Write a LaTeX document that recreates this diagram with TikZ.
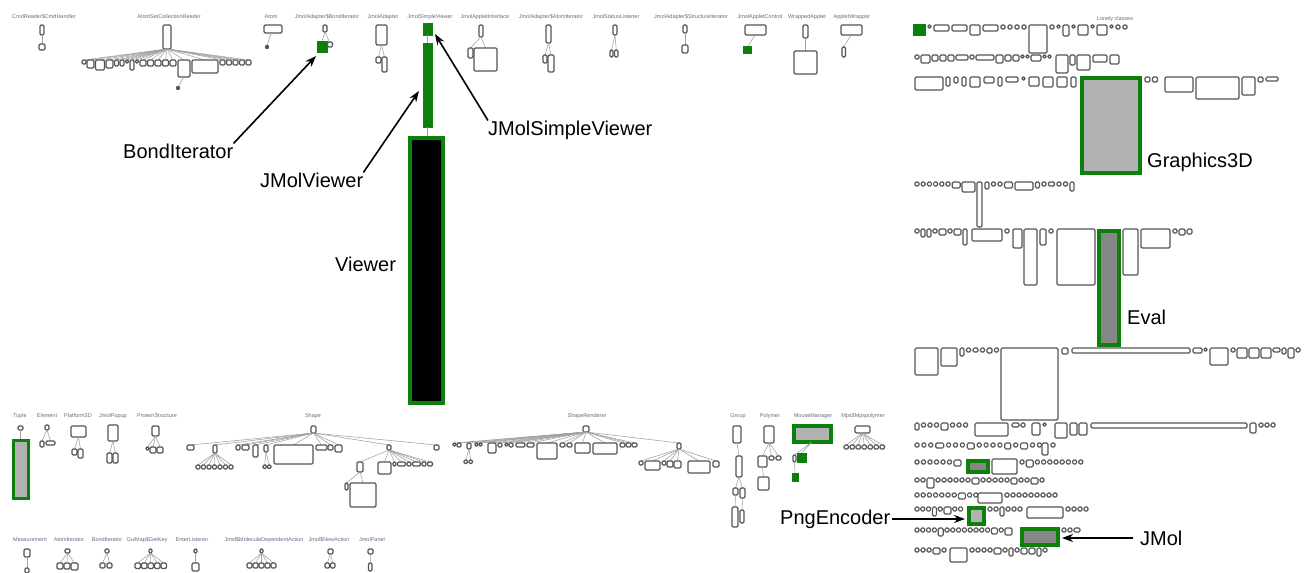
\documentclass[tikz,border=0pt]{standalone}
\usepackage{fontspec}
\setmainfont{Liberation Sans}
\usetikzlibrary{arrows.meta}
\definecolor{grn}{RGB}{12,128,12}
\definecolor{edge}{RGB}{85,85,85}
\definecolor{tlc}{RGB}{160,160,160}
\definecolor{lbl}{RGB}{110,105,135}
\definecolor{lgray}{RGB}{178,178,178}
\definecolor{mgray}{RGB}{135,135,135}
\tikzset{
  bx/.style={draw=edge, line width=1.15pt, rounded corners=1.3pt, fill=white},
  tl/.style={draw=tlc, line width=0.55pt},
  gthick/.style={draw=grn, line width=3.6pt},
  gsolid/.style={draw=grn, fill=grn, line width=0.6pt},
  tinylbl/.style={font=\fontsize{5.5}{6}\selectfont, text=lbl, inner sep=0pt},
  biglbl/.style={font=\fontsize{20}{24}\selectfont, inner sep=0pt, anchor=west},
  arr/.style={draw=black, line width=1.6pt, -{Stealth[length=11pt,width=8pt]}},
  dotf/.style={fill=edge}
}
\newcommand\bx[4]{\draw[bx] (#1,#2) rectangle ++(#3,#4);}
\newcommand\lrow[4]{\xdef\curx{#2}\foreach \w/\h in {#4}{\draw[bx] (\curx,#1) rectangle ++(\w,\h);\pgfmathparse{\curx+\w+#3}\xdef\curx{\pgfmathresult}}}
\newcommand\kids[4]{\foreach \xx/\w/\h in {#2}{\draw[tl] (#3,#4) -- (\xx+\w/2,#1);\draw[bx] (\xx,#1) rectangle ++(\w,\h);}}
\newcommand\tlab[3]{\node[tinylbl] at (#1,#2) {#3};}
\begin{document}
\begin{tikzpicture}[x=1pt,y=-1pt]
\useasboundingbox (0,0) rectangle (1310,573);
\fill[white] (0,0) rectangle (1310,573);

% ---------------- top row ----------------
\tlab{44}{17}{CmdReader\$CmdHandler}
\bx{40}{25}{4}{10}
\draw[tl] (42,35) -- (42,44);
\bx{39}{44}{6}{6}

\tlab{169}{17}{AtomSetCollectionReader}
\bx{163}{25}{8}{24}
\kids{60}{82/4/4,87/7/8,95.5/9/10,106/7/8,114.5/4/6,120/4/6,125.5/3/3,130/4/10,135.5/3/3,140/6/6,147.5/6/6,155/6/6,162.5/6/6,170/6/6,178/12/17,192/26/13,220/5/5,226.5/5/5,233/5/5,239.5/5/5,246/5/5}{167}{49}
\draw[tl] (184,77) -- (178,87);
\fill[dotf] (178,88) circle (2.2);

\tlab{271}{17}{Atom}
\bx{264}{25}{18}{8}
\draw[tl] (271,33) -- (267,46);
\fill[dotf] (267,47) circle (2.2);

\tlab{327}{17}{JmolAdapter\$BondIterator}
\bx{323}{25}{4}{7}
\draw[tl] (325,32) -- (322,41) (325,32) -- (329.5,42);
\draw[gsolid] (317,41) rectangle (327,52);
\bx{327.5}{42}{5}{5}

\tlab{383}{17}{JmolAdapter}
\bx{376}{25}{11}{20}
\kids{57}{376/5/6,382/5/15}{381.5}{45}

\tlab{430}{17}{JmolSimpleViewer}
\draw[gsolid] (423,23) rectangle (432,35);
\draw[tl] (427.5,35) -- (427.5,43);
\draw[gsolid] (423,43) rectangle (432,127);
\draw[tl] (427.5,127) -- (427.5,136);
\draw[gthick, fill=black] (410,138) rectangle (443,403);

\tlab{485}{17}{JmolAppletInterface}
\bx{479}{25}{4}{12}
\kids{48}{468/5/10,474/23/23}{481}{37}

\tlab{551}{17}{JmolAdapter\$AtomIterator}
\bx{546}{25}{5}{18}
\kids{55}{543/4/8,548/6/17}{548.5}{43}

\tlab{616}{17}{JmolStatusListener}
\bx{613}{25}{4}{10}
\kids{50}{610/3/7,614.5/3.5/7}{615}{35}

\tlab{691}{17}{JmolAdapter\$StructureIterator}
\bx{683}{25}{4}{8}
\kids{45}{682/6/8}{685}{33}

\tlab{760}{17}{JmolAppletControl}
\bx{745}{25}{21}{10}
\draw[tl] (755,35) -- (748,46);
\draw[gsolid] (743,46) rectangle (751,53);

\tlab{807}{17}{WrappedApplet}
\bx{803}{25}{5}{13}
\kids{51}{794/23/23}{805.5}{38}

\tlab{852}{17}{AppletWrapper}
\bx{841}{25}{21}{10}
\kids{47}{842/3.5/10}{851}{35}

% ---------------- annotations ----------------
\node[biglbl] (lbBond) at (123,151) {BondIterator};
\coordinate (tipBond) at (316,56);
\draw[arr] (lbBond.north east) -- (tipBond);
\node[biglbl] (lbJV) at (260,180) {JMolViewer};
\coordinate (tipJV) at (419,91);
\draw[arr] (lbJV.north east) -- (tipJV);
\node[biglbl] (lbJSV) at (488,130) {JMolSimpleViewer};
\coordinate (tipJSV) at (435,34);
\draw[arr] (lbJSV.north west) -- (tipJSV);
\node[biglbl] (lbV) at (335,264) {Viewer};

% ---------------- bottom-left clusters ----------------
\tlab{20}{416}{Tuple}
\bx{18}{426}{5}{4}
\draw[tl] (20.5,430) -- (20.5,439);
\draw[gthick, fill=lgray] (13.5,440.5) rectangle (28.5,498.5);

\tlab{47}{416}{Element}
\bx{45}{425}{4}{5}
\kids{441}{40/4/6,46/9/4}{47}{430}

\tlab{78}{416}{Platform3D}
\bx{71}{426}{15}{11}
\kids{449}{72/5/6,78/5/9}{78.5}{437}

\tlab{113}{416}{JmolPopup}
\bx{108}{425}{10}{16}
\kids{453}{107/5/10,113/5/10}{113}{441}

\tlab{157}{416}{ProteinStructure}
\bx{152}{426}{7}{10}
\kids{447}{146/3/3,150/6/6,157/6/6}{155.5}{436}

\tlab{313}{416}{Shape}
\bx{311}{426}{5}{7}
\kids{445}{187/7/5,213/4/8,236/4/5,242/7/5,253/5/12,264/4/7,274/39/19,316/11/5,328/5/5,335/7/7,387/4/5,434/5/5}{313.5}{433}
\kids{465}{196/4/4,201.5/4/4,207/4/4,212.5/4/4,218/4/4,223.5/4/4,229/4/4}{215}{453}
\kids{465}{263/3.5/3.5,267.5/3.5/3.5}{266}{452}
\kids{462}{357/6/10,378/13/12,393/3/4,397.5/8/4,407/4/4,412.5/8/4,422/4/4,427.5/5/4}{389}{450}
\kids{483}{345/3/7,350/26/24}{360}{472}

\tlab{587}{416}{ShapeRenderer}
\bx{583}{426}{6}{6}
\kids{443}{453/3/3,457/4/4,467/4/6,475/3/3,479/3/3,488/8/10,498/4/4,505/3/3,509/4/4,516/9/4,527/7/4,537/20/16,560/5/4,567/5/4,575/15/10,593/24/11,620/5/4,626/5/4,632/5/4,677/4/6}{586}{432}
\kids{460}{464/3.5/3.5,469/3.5/3.5}{469}{449}
\kids{461}{639/4/4,645/15/9,662/4/4,667/6/6,674/7/7,688/22/12,713/6/6}{679}{449}

\tlab{738}{416}{Group}
\bx{733}{426}{8}{17}
\kids{456}{736/6/21}{737}{443}
\kids{488}{733/5/7,740/5/10}{739}{477}
\kids{507}{732/6/20}{735.5}{495}
\kids{510}{740/4/13}{742.5}{498}

\tlab{770}{416}{Polymer}
\bx{764}{426}{10}{17}
\kids{456}{758/9/11,769/5/4,776/5/4}{769}{443}
\kids{477}{758/11/13}{762.5}{467}

\tlab{813}{416}{MouseManager}
\draw[gthick, fill=lgray] (794,426) rectangle (831,442);
\draw[tl] (812,442) -- (794.5,455) (812,442) -- (801.5,453);
\bx{793}{455}{3}{7}
\draw[gsolid] (797.5,453) rectangle (806,462);
\draw[tl] (794.5,462) -- (795,473);
\draw[gsolid] (792,473) rectangle (798,481);

\tlab{863}{416}{Mps\$Mpspolymer}
\bx{855}{426}{15}{7}
\kids{445}{844/4.5/4,850/4.5/4,856/4.5/4,862/4.5/4,868/4.5/4,874/4.5/4,880/4.5/4}{862.5}{433}

% bottom row
\tlab{30}{540}{Measurement}
\bx{24}{549}{6}{8}
\kids{568}{25/4/5}{27}{557}
\tlab{69}{540}{AtomIterator}
\bx{65}{549}{5}{4}
\kids{563}{57/6/6,64/6/6,71/7/7}{67.5}{553}
\tlab{107}{540}{BondIterator}
\bx{105}{549}{4}{4}
\kids{563}{100/5/5,107/5/5}{107}{553}
\tlab{147}{540}{GuiMap\$GetKey}
\bx{149}{549}{3}{4}
\kids{563}{135/5.5/5.5,141.5/5.5/5.5,148/5.5/5.5,154.5/5.5/5.5,161/5.5/5.5}{150.5}{553}
\tlab{192}{540}{EnterListener}
\bx{194}{549}{3}{4}
\kids{563}{192/7/8}{195.5}{553}
\tlab{264}{540}{Jmol\$MoleculeDependentAction}
\bx{260}{549}{3}{4}
\kids{563}{247/5/5,253/5/5,259/5/5,265/5/5,271/5/5}{261.5}{553}
\tlab{329}{540}{Jmol\$NewAction}
\bx{328}{549}{5}{5}
\kids{563}{325/4.5/5,330.5/4.5/5}{330.5}{554}
\tlab{372}{540}{JmolPanel}
\bx{368}{549}{5}{5}
\kids{563}{368.5/3.5/8}{370.5}{554}

% ---------------- lonely classes ----------------
\tlab{1115}{19}{Lonely classes}
\draw[gsolid] (913,24) rectangle (925,35);
\lrow{25}{928}{3}{3/3,15/6,15/6,10/10,15/6,4/4,4/4,4/4,4/4,18/28,4/4,3/3,6/11,3/3,10/10,3/3,10/10,3/3,4/4,4/4}

\lrow{55}{915}{2}{4/4,9/8,6/6,6/6,6/6,12/5,4/4,18/5,7/8,6/6,6/6,3/3,3/3,10/6,3/3,3/3}
\bx{1056}{55}{12}{18}
\bx{1070}{55}{5}{10}
\bx{1077}{55}{13}{15}
\bx{1093}{55}{14}{7}
\bx{1110}{55}{9}{9}

\bx{915}{77}{28}{13}
\lrow{77}{946}{4}{4/9,4/6,4/9,10/10,10/6,4/9,12/5,3/3,10/9,10/10,10/10,5/10}
\draw[gthick, fill=lgray] (1082,78) rectangle (1140,173);
\lrow{77}{1145}{2.5}{5/5,5/5}
\bx{1165}{77}{28}{15}
\bx{1196}{77}{43}{22}
\bx{1242}{77}{13}{18}
\bx{1258}{77}{5}{5}
\bx{1266}{77}{12}{4}

\lrow{182}{915}{2.2}{4/4,4/4,4/4,4/4,4/4,4/4,8/6}
\bx{962}{182}{13}{10}
\bx{977}{182}{5}{45}
\lrow{182}{985}{2.5}{4/7,4/4,4/4,8/6,18/8,4/6,4/4,6/4,4/4,4/4,4/9}

\lrow{229}{915}{2}{4/4,4/8,4/8,4/4,7/6,4/4,7/6,4/16}
\bx{972}{229}{30}{12}
\bx{1005}{229}{4}{4}
\bx{1013}{229}{9}{19}
\bx{1024}{229}{13}{56}
\bx{1040}{229}{6}{16}
\bx{1049}{229}{4}{4}
\bx{1057}{229}{38}{56}
\draw[gthick, fill=mgray] (1099,231) rectangle (1119,345);
\bx{1123}{229}{15}{46}
\bx{1141}{229}{29}{19}
\lrow{229}{1173}{2}{4/4,6/6,5/5}

\bx{915}{348}{23}{27}
\bx{941}{348}{16}{18}
\lrow{348}{960}{2.5}{4/8,4/4,5/4,4/4,5/5,4/4}
\bx{1001}{348}{57}{72}
\bx{1062}{348}{6}{6}
\bx{1072}{348}{118}{5}
\bx{1193}{348}{9}{5}
\bx{1204}{348}{3}{3}
\bx{1210}{348}{18}{17}
\lrow{348}{1231}{2}{4/4,10/10,10/10,10/10,7/4,4/6,6/10,4/4}

\lrow{423}{915}{2.5}{4/7,4/4,4/4,4/4,7/7,4/4,4/4,4/4}
\bx{975}{423}{33}{13}
\lrow{423}{1012}{2}{7/4,4/4}
\bx{1032}{423}{8}{12}
\bx{1043}{423}{3}{3}
\bx{1055}{423}{12}{15}
\bx{1070}{423}{7}{12}
\bx{1079}{423}{8}{12}
\bx{1091}{423}{156}{5}
\bx{1250}{423}{6}{10}
\lrow{423}{1259}{2}{4/4,4/4,4/4}

\lrow{443}{915}{2.9}{4/4,4/4,4/4,8/5,4/4,4/4,4/4,7/6,4/4,4/4,4/4,4/4,6/6,4/4,7/6,4/4,4/4}
\bx{1042}{443}{6}{12}
\bx{1051}{443}{4}{4}

\lrow{460}{915}{2.5}{4/4,4/4,4/4,4/4,4/4,4/4,7/6}
\draw[gthick, fill=mgray] (968,461) rectangle (988,472);
\bx{992}{459}{25}{15}
\lrow{460}{1020}{2.2}{4/4,7/7,4/4,4/4,4/4,4/4,4/4,4/4,4/4,4/4}

\lrow{478}{915}{2}{4/4,4/4,7/10,4/4,4/4,4/4,4/4,4/4,4/4,7/6,4/4,4/4,4/4,4/4,4/4,6/6,4/4,4/4,7/6,4/4}

\lrow{493}{915}{2.2}{4/4,4/4,4/4,4/4,4/4,4/4,4/4,7/6,4/4,4/4}
\bx{978}{493}{24}{10}
\lrow{493}{1005}{2}{4/4,4/4,4/4,4/4,4/4,4/4,4/4,4/4,4/4}

\lrow{507}{915}{1.8}{4/4,4/4,4/4,4/9,4/4,7/7,4/4,4/4}
\draw[gthick, fill=lgray] (969,508) rectangle (984,524);
\lrow{507}{988}{2}{4/4,4/4,4/9,4/4,4/4,4/4}
\bx{1027}{507}{36}{11}
\lrow{507}{1066}{2}{4/4,4/4,4/4,4/4}

\lrow{528}{915}{1.8}{4/4,4/4,4/4,4/4,5/8,4/4,4/4,4/4,4/4,4/4,4/4,4/4,4/4,6/6,4/4,7/7}
\draw[gthick, fill=mgray] (1022,529) rectangle (1058,545);
\lrow{528}{1062}{2}{4/4,4/4,6/4}

\lrow{548}{915}{2}{4/4,4/4,4/4,7/6,4/4}
\bx{950}{548}{17}{14}
\lrow{548}{970}{2}{4/4,4/4,4/4,4/4,7/6,4/4,4/8,4/4,6/6,6/6,4/8,4/4}

\node[biglbl] (lbG) at (1147,162) {Graphics3D};
\node[biglbl] (lbE) at (1127,317) {Eval};
\node[biglbl] (lbP) at (780,519) {PngEncoder};
\coordinate (tipP) at (965,519);
\draw[arr] ([xshift=2pt]lbP.east) -- (tipP);
\node[biglbl] (lbJ) at (1140,538) {JMol};
\coordinate (tipJ) at (1062,538);
\draw[arr] ([xshift=-7pt]lbJ.west) -- (tipJ);
\end{tikzpicture}
\end{document}
